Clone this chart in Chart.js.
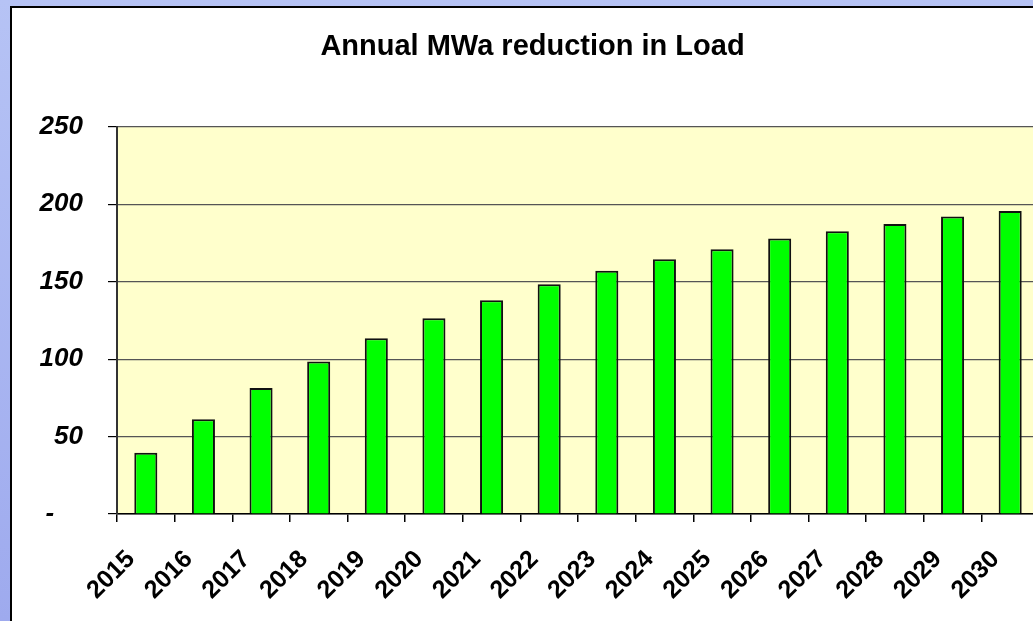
<!DOCTYPE html>
<html>
<head>
<meta charset="utf-8">
<script src="https://cdn.jsdelivr.net/npm/chart.js@4"></script>
<style>
  html, body { margin: 0; padding: 0; overflow: hidden; width: 1033px; height: 621px; }
  body { background: linear-gradient(#b6c3f5, #9eaaee); position: relative; }
  #panel { position: absolute; left: 10px; top: 6px; width: 1070px; height: 640px;
           border: 2px solid #000; background: #fff; }
  #myChart { display: block; }
</style>
</head>
<body>
<div id="panel"><canvas id="myChart" width="1054" height="620"></canvas></div>
<script>
var years = ['2015', '2016', '2017', '2018', '2019', '2020', '2021', '2022',
             '2023', '2024', '2025', '2026', '2027', '2028', '2029', '2030'];
var reduction = [39.6, 61.2, 81.3, 98.4, 113.5, 126.4, 138.0, 148.4,
                 157.0, 164.5, 171.0, 177.8, 182.6, 187.3, 192.1, 195.7];
var yTicks = [0, 50, 100, 150, 200, 250];

var plotBg = {
  id: 'plotBg',
  beforeDraw: function(chart) {
    var a = chart.chartArea, c = chart.ctx;
    c.save();
    c.fillStyle = '#ffffcc';
    c.fillRect(a.left, a.top, a.right - a.left, a.bottom - a.top);
    c.restore();
  }
};

var ctx = document.getElementById('myChart').getContext('2d');
var myChart = new Chart(ctx, {
  type: 'bar',
  data: {
    labels: years,
    datasets: [{
      data: reduction,
      backgroundColor: '#00ff00',
      borderColor: '#111',
      borderWidth: 2,
      categoryPercentage: 1,
      barPercentage: 0.4
    }]
  },
  options: {
    responsive: false,
    animation: false,
    layout: { padding: { left: 14, right: 27, top: 0, bottom: 0 } },
    plugins: {
      legend: { display: false },
      tooltip: { enabled: false },
      title: {
        display: true,
        text: 'Annual MWa reduction in Load',
        color: '#000',
        align: 'center',
        font: { family: "'Liberation Sans', Arial, sans-serif", size: 29, weight: 'bold' },
        padding: { top: 22, bottom: 62 }
      }
    },
    scales: {
      x: {
        afterFit: function(s) { s.height = 114; },
        border: { color: '#000', width: 1.5 },
        grid: { drawOnChartArea: false, offset: true, tickLength: 8, color: '#000', lineWidth: 1.5 },
        ticks: {
          color: '#000',
          autoSkip: false,
          minRotation: 45,
          maxRotation: 45,
          padding: 8,
          font: { family: "'Liberation Sans', Arial, sans-serif", size: 25, weight: 'bold' },
          callback: function(v, i) { return years[i] + '   '; }
        }
      },
      y: {
        min: 0,
        max: 250,
        afterFit: function(s) { s.width = 91; },
        afterBuildTicks: function(s) { s.ticks = yTicks.map(function(v) { return { value: v }; }); },
        border: { color: '#333', width: 2 },
        grid: { color: '#555', lineWidth: 1.2, tickLength: 9, tickColor: '#000' },
        ticks: {
          color: '#000',
          padding: 25,
          font: { family: "'Liberation Sans', Arial, sans-serif", size: 26, weight: 'bold', style: 'italic' },
          callback: function(v) { return v === 0 ? '-    ' : v; }
        }
      }
    }
  },
  plugins: [plotBg]
});
</script>
</body>
</html>
